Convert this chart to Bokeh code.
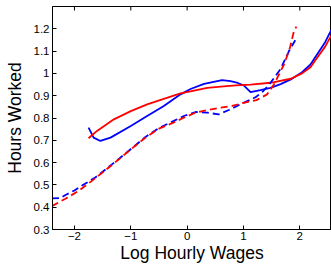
import math
from bokeh.plotting import figure
from bokeh.models import Range1d, FixedTicker
from bokeh.embed import file_html
from bokeh.resources import INLINE

# Data
blue_solid_x = [-1.75, -1.66, -1.54, -1.36, -1.0, -0.71, -0.414, -0.117, 0.06, 0.3, 0.62, 0.77, 0.9, 1.0, 1.126, 1.3, 1.48, 1.66, 1.84, 2.04, 2.19, 2.28, 2.45, 2.56]
blue_solid_y = [0.757, 0.712, 0.697, 0.712, 0.764, 0.809, 0.854, 0.906, 0.93, 0.953, 0.97, 0.965, 0.957, 0.947, 0.916, 0.925, 0.935, 0.952, 0.973, 1.005, 1.04, 1.075, 1.14, 1.195]

red_solid_x = [-1.75, -1.6, -1.3, -1.0, -0.71, -0.414, -0.117, 0.1, 0.357, 0.6, 0.86, 1.126, 1.48, 1.84, 2.04, 2.19, 2.28, 2.45, 2.57]
red_solid_y = [0.709, 0.742, 0.794, 0.831, 0.861, 0.886, 0.91, 0.922, 0.935, 0.941, 0.946, 0.95, 0.958, 0.976, 1.0, 1.028, 1.06, 1.12, 1.175]

blue_dash_x = [-2.4, -2.25, -2.16, -2.0, -1.92, -1.63, -1.33, -1.035, -0.74, -0.5, -0.236, -0.06, 0.15, 0.357, 0.56, 0.74, 1.0, 1.215, 1.35, 1.48, 1.66, 1.806, 1.925]
blue_dash_y = [0.44, 0.441, 0.455, 0.475, 0.489, 0.533, 0.593, 0.653, 0.715, 0.755, 0.787, 0.809, 0.827, 0.824, 0.816, 0.836, 0.868, 0.893, 0.92, 0.958, 1.02, 1.099, 1.151]

red_dash_x = [-2.4, -2.16, -1.92, -1.63, -1.33, -1.035, -0.74, -0.5, -0.236, -0.06, 0.15, 0.357, 0.59, 0.8, 1.0, 1.23, 1.42, 1.54, 1.72, 1.82, 1.895, 1.94]
red_dash_y = [0.405, 0.438, 0.474, 0.53, 0.59, 0.652, 0.712, 0.752, 0.78, 0.801, 0.824, 0.836, 0.846, 0.854, 0.868, 0.88, 0.906, 0.95, 1.04, 1.11, 1.188, 1.21]

x_ticks = [-2, -1, 0, 1, 2]
x_tick_labels = ["\u22122", "\u22121", "0", "1", "2"]
y_ticks = [0.3, 0.4, 0.5, 0.6, 0.7, 0.8, 0.9, 1.0, 1.1, 1.2]
y_tick_labels = ["0.3", "0.4", "0.5", "0.6", "0.7", "0.8", "0.9", "1", "1.1", "1.2"]

FONT = "Liberation Sans"
X_START, X_END = -2.39, 2.563
Y_START, Y_END = 0.3, 1.3

p = figure(width=331, height=265, output_backend="svg", toolbar_location=None,
           x_range=Range1d(X_START, X_END), y_range=Range1d(Y_START, Y_END),
           min_border_left=52, min_border_right=0, min_border_top=6, min_border_bottom=36)
p.xgrid.visible = False
p.ygrid.visible = False
p.outline_line_color = "black"
p.outline_line_width = 1
p.background_fill_color = "white"
p.border_fill_color = "white"

p.line(blue_solid_x, blue_solid_y, line_color="#0000ff", line_width=1.8)
p.line(red_solid_x, red_solid_y, line_color="#ff0000", line_width=1.8)
p.line(blue_dash_x, blue_dash_y, line_color="#0000ff", line_width=1.8, line_dash="7 4")
p.line(red_dash_x, red_dash_y, line_color="#ff0000", line_width=1.8, line_dash="7 4")

# inward ticks on the top edge (mirror box, like the reference)
p.scatter(x_ticks, [Y_END] * len(x_ticks), marker="dash", size=8, angle=math.pi / 2,
          line_color="black", line_width=1)

for ax, ticks, labels in ((p.xaxis[0], x_ticks, x_tick_labels), (p.yaxis[0], y_ticks, y_tick_labels)):
    ax.ticker = FixedTicker(ticks=ticks)
    ax.major_label_overrides = {t: l for t, l in zip(ticks, labels)}
    ax.major_tick_in = 4
    ax.major_tick_out = 0
    ax.minor_tick_line_color = None
    ax.major_label_text_font = FONT
    ax.major_label_text_font_size = "11.5px"
    ax.major_label_text_color = "black"
    ax.axis_label_text_font = FONT
    ax.axis_label_text_font_size = "17.5px"
    ax.axis_label_text_font_style = "normal"
    ax.axis_label_text_color = "black"
    ax.axis_line_color = "black"

p.xaxis.axis_label = "Log Hourly Wages"
p.yaxis.axis_label = "Hours Worked"
p.xaxis.major_label_standoff = 2
p.xaxis.axis_label_standoff = 0
p.yaxis.major_label_standoff = 3
p.yaxis.axis_label_standoff = 6

open("out.html", "w").write(file_html(p, INLINE))
